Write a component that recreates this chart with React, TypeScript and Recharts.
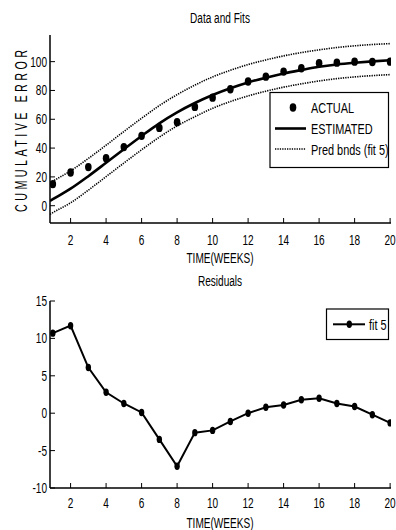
import React from 'react';
import { ComposedChart, LineChart, Line, Scatter, XAxis, YAxis } from 'recharts';

// ---- data ----
const weeks = [1, 2, 3, 4, 5, 6, 7, 8, 9, 10, 11, 12, 13, 14, 15, 16, 17, 18, 19, 20];
const actual = [15.0, 23.1, 26.8, 33.0, 40.7, 48.5, 54.0, 58.0, 68.6, 75.0, 80.8, 86.2, 89.6, 93.1, 95.4, 98.9, 99.3, 100.0, 99.8, 100.0];
const curveX = [0.84, 1, 2, 3, 4, 5, 6, 7, 8, 9, 10, 11, 12, 13, 14, 15, 16, 17, 18, 19, 20];
const estimated = [3.3, 4.5, 11.8, 20.5, 29.8, 39.2, 48.4, 57.2, 64.8, 71.3, 76.9, 81.6, 85.6, 88.9, 91.8, 94.2, 96.4, 98.0, 99.2, 100.2, 101.0];
const predUpper = [15.8, 17.0, 24.2, 32.8, 42.0, 51.5, 60.7, 69.5, 77.1, 83.7, 89.4, 94.0, 98.0, 101.2, 104.0, 106.3, 108.2, 109.8, 111.0, 111.9, 112.5];
const predLower = [-6.0, -4.8, 2.0, 10.8, 20.2, 29.6, 38.8, 47.6, 55.4, 61.8, 67.6, 72.3, 76.2, 79.5, 82.3, 84.6, 86.6, 88.2, 89.4, 90.3, 91.0];
const residuals = [10.7, 11.7, 6.1, 2.8, 1.3, 0.1, -3.5, -7.1, -2.6, -2.3, -1.1, 0.0, 0.8, 1.1, 1.8, 2.0, 1.3, 0.9, -0.2, -1.3];

const xTicks = [2, 4, 6, 8, 10, 12, 14, 16, 18, 20];
const fitYTicks = [0, 20, 40, 60, 80, 100];
const resYTicks = [-10, -5, 0, 5, 10, 15];

const actualRows = weeks.map((x, i) => ({ x, actual: actual[i] }));
const curveRows = curveX.map((x, i) => ({ x, fit: estimated[i], up: predUpper[i], lo: predLower[i] }));
const resRows = weeks.map((x, i) => ({ x, res: residuals[i] }));

const FONT = "'Liberation Sans', Arial, sans-serif";
const TICK_LEN = 5;
const SX = 0.84;
const SY = 1.16;

// condensed, slightly tall text (the reference uses a narrow Helvetica)
const NT = ({ x, y, anchor = 'start', size = 12, children }: any) => (
  <text transform={`translate(${x} ${y}) scale(${SX} ${SY})`} x={0} y={0} textAnchor={anchor}
    fontSize={size} fontFamily={FONT} fill="#000">{children}</text>
);

const makeBottomTick = (off: number) => (p: any) => (
  <g>
    <line x1={p.x} x2={p.x} y1={p.y} y2={p.y - TICK_LEN} stroke="#000" strokeWidth={1} />
    <NT x={p.x} y={p.y + off} anchor="middle">{p.payload.value}</NT>
  </g>
);
const TopTick = (p: any) => (
  <line x1={p.x} x2={p.x} y1={p.y} y2={p.y + TICK_LEN} stroke="#000" strokeWidth={1} />
);
const LeftTick = (p: any) => (
  <g>
    <line x1={p.x} x2={p.x + TICK_LEN} y1={p.y} y2={p.y} stroke="#000" strokeWidth={1} />
    <NT x={p.x - 3} y={p.y + 5} anchor="end">{p.payload.value}</NT>
  </g>
);
const RightTick = (p: any) => (
  <line x1={p.x} x2={p.x - TICK_LEN} y1={p.y} y2={p.y} stroke="#000" strokeWidth={1} />
);

const TopBottomTick = makeBottomTick(21.5);
const ResBottomTick = makeBottomTick(19.5);

const BigDot = (p: any) => (
  p.cx == null ? null : <ellipse cx={p.cx} cy={p.cy} rx={3.3} ry={4.2} fill="#000" />
);
const SmallDot = (p: any) => (
  p.cx == null ? null : <ellipse key={`d${p.index}`} cx={p.cx} cy={p.cy} rx={2.7} ry={3.7} fill="#000" />
);

const YLabel = (p: any) => {
  const vb = p.viewBox;
  const cx = 26.5;
  const cy = vb.y + vb.height / 2 + 2;
  return (
    <text transform={`translate(${cx} ${cy}) rotate(-90) scale(0.86 1.25)`} x={0} y={0} textAnchor="middle"
      fontSize={12.5} fontFamily={FONT} fill="#000" textLength={162 / 0.86} lengthAdjust="spacing">
      CUMULATIVE ERROR
    </text>
  );
};

const W = 396;
const H = 265;
const margin = { top: 35, right: 5, bottom: 12, left: 10 };
const margin2 = { top: 36, right: 5, bottom: 12, left: 10 };

export default function App() {
  return (
    <div style={{ position: 'absolute', left: 0, top: 0, width: 396, height: 530, background: '#fff' }}>
      <ComposedChart width={W} height={H} margin={margin}>
        <XAxis xAxisId="b" type="number" dataKey="x" domain={[0.84, 20.05]} ticks={xTicks} allowDataOverflow
          height={30} tickSize={0} tickMargin={0} tick={<TopBottomTick />} axisLine={{ stroke: '#000', strokeWidth: 1.5 }} tickLine={false} interval={0} />
        <XAxis xAxisId="t" orientation="top" type="number" dataKey="x" domain={[0.84, 20.05]} ticks={xTicks} allowDataOverflow
          height={0} tickSize={0} tickMargin={0} tick={<TopTick />} axisLine={{ stroke: '#000', strokeWidth: 1 }} tickLine={false} interval={0} />
        <YAxis yAxisId="l" type="number" domain={[-12, 118.5]} ticks={fitYTicks} allowDataOverflow width={40}
          tickSize={0} tickMargin={0} tick={<LeftTick />} axisLine={{ stroke: '#000', strokeWidth: 1.5 }} tickLine={false} interval={0}
          label={<YLabel />} />
        <YAxis yAxisId="r" orientation="right" type="number" domain={[-12, 118.5]} ticks={fitYTicks} allowDataOverflow width={0}
          tickSize={0} tickMargin={0} tick={<RightTick />} axisLine={{ stroke: '#000', strokeWidth: 1 }} tickLine={false} interval={0} />
        <Line xAxisId="b" yAxisId="l" data={curveRows} dataKey="up" type="monotone" stroke="#000" strokeWidth={1.6}
          strokeDasharray="1.3 1.1" dot={false} isAnimationActive={false} />
        <Line xAxisId="b" yAxisId="l" data={curveRows} dataKey="lo" type="monotone" stroke="#000" strokeWidth={1.6}
          strokeDasharray="1.3 1.1" dot={false} isAnimationActive={false} />
        <Line xAxisId="b" yAxisId="l" data={curveRows} dataKey="fit" type="monotone" stroke="#000" strokeWidth={2.6}
          dot={false} isAnimationActive={false} />
        <Scatter xAxisId="b" yAxisId="l" data={actualRows} dataKey="actual" shape={<BigDot />} isAnimationActive={false} />
      </ComposedChart>
      <LineChart width={W} height={H} margin={margin2} data={resRows}>
        <XAxis xAxisId="b" type="number" dataKey="x" domain={[0.84, 20.05]} ticks={xTicks} allowDataOverflow
          height={30} tickSize={0} tickMargin={0} tick={<ResBottomTick />} axisLine={{ stroke: '#000', strokeWidth: 1.5 }} tickLine={false} interval={0} />
        <XAxis xAxisId="t" orientation="top" type="number" dataKey="x" domain={[0.84, 20.05]} ticks={xTicks} allowDataOverflow
          height={0} tickSize={0} tickMargin={0} tick={<TopTick />} axisLine={{ stroke: '#000', strokeWidth: 1 }} tickLine={false} interval={0} />
        <YAxis yAxisId="l" type="number" domain={[-10, 15]} ticks={resYTicks} allowDataOverflow width={40}
          tickSize={0} tickMargin={0} tick={<LeftTick />} axisLine={{ stroke: '#000', strokeWidth: 1.5 }} tickLine={false} interval={0} />
        <YAxis yAxisId="r" orientation="right" type="number" domain={[-10, 15]} ticks={resYTicks} allowDataOverflow width={0}
          tickSize={0} tickMargin={0} tick={<RightTick />} axisLine={{ stroke: '#000', strokeWidth: 1 }} tickLine={false} interval={0} />
        <Line xAxisId="b" yAxisId="l" dataKey="res" type="linear" stroke="#000" strokeWidth={2}
          dot={<SmallDot />} isAnimationActive={false} />
      </LineChart>
      <svg width={396} height={530} style={{ position: 'absolute', left: 0, top: 0, pointerEvents: 'none' }}>
        <NT x={220} y={23.3} anchor="middle">Data and Fits</NT>
        <NT x={220} y={262.7} anchor="middle">TIME(WEEKS)</NT>
        <NT x={220} y={286} anchor="middle">Residuals</NT>
        <NT x={220} y={527.5} anchor="middle">TIME(WEEKS)</NT>
        {/* top legend */}
        <rect x={270} y={92.5} width={118.5} height={75} fill="#fff" stroke="#000" strokeWidth={1.2} />
        <ellipse cx={293} cy={107.5} rx={3.3} ry={4.2} fill="#000" />
        <line x1={275} x2={306} y1={128.5} y2={128.5} stroke="#000" strokeWidth={2.6} />
        <line x1={275} x2={306} y1={149} y2={149} stroke="#000" strokeWidth={1.6} strokeDasharray="1.3 1.1" />
        <NT x={311} y={113} size={13}>ACTUAL</NT>
        <NT x={311} y={134} size={13}>ESTIMATED</NT>
        <NT x={311} y={154.5} size={13}>Pred bnds (fit 5)</NT>
        {/* bottom legend */}
        <rect x={326.5} y={309} width={62} height={30.5} fill="#fff" stroke="#000" strokeWidth={1.2} />
        <line x1={333} x2={365} y1={324.3} y2={324.3} stroke="#000" strokeWidth={2} />
        <ellipse cx={349.3} cy={324.3} rx={2.7} ry={3.7} fill="#000" />
        <NT x={369} y={329.5} size={13}>fit 5</NT>
      </svg>
    </div>
  );
}
